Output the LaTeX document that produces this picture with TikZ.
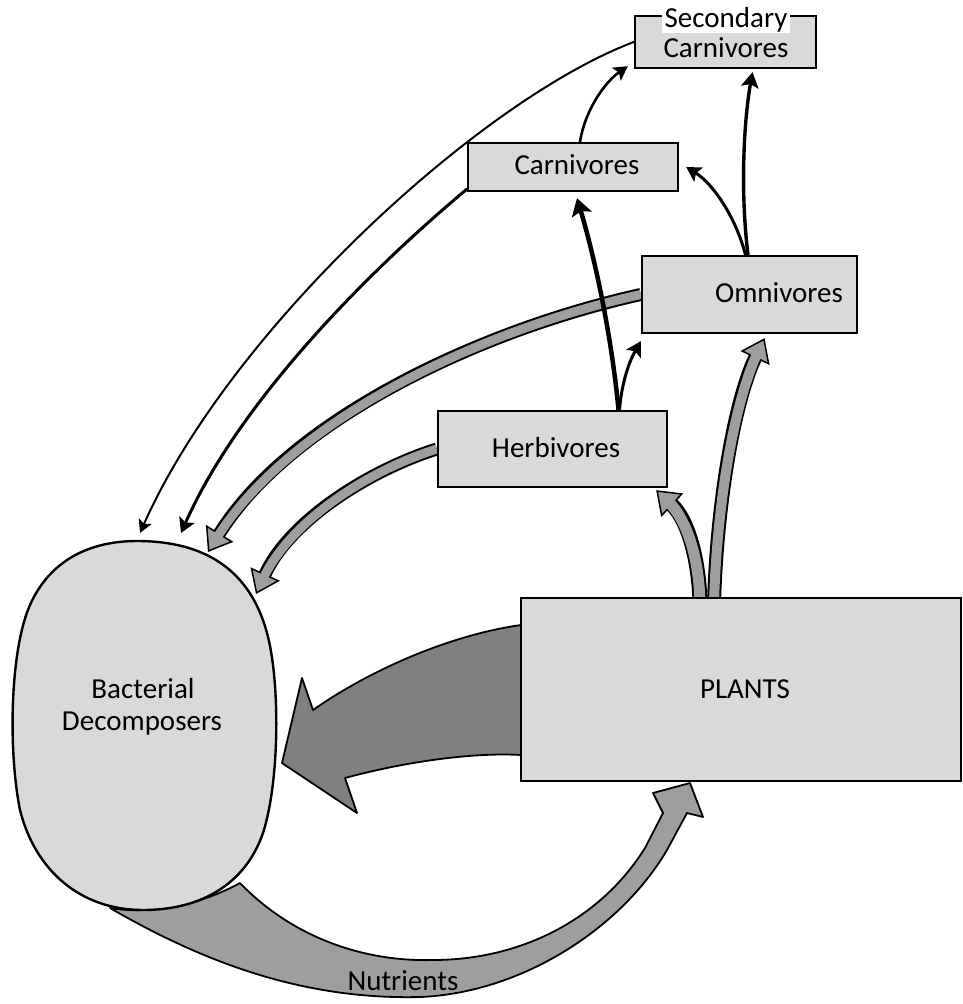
\documentclass[tikz,border=0pt]{standalone}
\usepackage{fontspec}
\setmainfont{Carlito}
\usetikzlibrary{arrows.meta}
\pgfdeclarelayer{back}
\pgfdeclarelayer{mid}
\pgfdeclarelayer{conn}
\pgfsetlayers{back,mid,conn,main}
\definecolor{boxgray}{gray}{0.85}
\definecolor{bandgray}{gray}{0.62}
\definecolor{biggray}{gray}{0.5}
\begin{document}
\begin{tikzpicture}[x=1pt,y=-1pt,
 box/.style={draw=black, line width=2.4pt, fill=boxgray, rectangle, inner sep=0pt},
 lbl/.style={font=\fontsize{29pt}{32pt}\selectfont, inner sep=0pt, anchor=base},
 thinarrow/.style={draw=black, line width=#1, line cap=round, -{Stealth[length=10pt 1.5, width=9pt 2.5, inset=3pt]}},
 bandout/.style={draw=black, line width=#1, -{Triangle[length=22pt, width=32pt, fill=bandgray, line width=1.5pt]}},
 bandin/.style={draw=bandgray, line width=#1, shorten >=15pt},
 shapeout/.style={draw=black, line width=1.8pt, line join=round}
]
\useasboundingbox (0,0) rectangle (963,1004);
\begin{pgfonlayer}{back}
\fill[white] (0,0) rectangle (963,1004);
\end{pgfonlayer}

% boxes
\node[box, minimum width=181pt, minimum height=52pt] (sec) at (725.5,42) {};
\node[box, minimum width=210pt, minimum height=48pt] (carn) at (573,167) {};
\node[box, minimum width=215pt, minimum height=77pt] (omni) at (749.5,294.5) {};
\node[box, minimum width=229pt, minimum height=76pt] (herb) at (552.5,449) {};
\node[box, minimum width=440pt, minimum height=183pt] (plants) at (741,689.5) {};

% labels
\node[lbl, fill=white, inner xsep=3pt, inner ysep=1pt] (secA) at (726,27) {Secondary};
\node[lbl] (secB) at (726,57) {Carnivores};
\node[lbl] (carnL) at (577,174) {Carnivores};
\node[lbl] (omniL) at (779,302) {Omnivores};
\node[lbl] (herbL) at (556,457) {Herbivores};
\node[lbl] (plantsL) at (745,698) {PLANTS};
\node[lbl] (bactA) at (143,698) {Bacterial};
\node[lbl] (bactB) at (142,730) {Decomposers};

% coordinates
\coordinate (bact) at (146,725);
\coordinate (bSec) at (140,533);
\coordinate (bCarn) at (181,533);
\coordinate (bOmni) at (208,552);
\coordinate (bHerb) at (256,594);
\coordinate (forkL) at (700,603);
\coordinate (forkR) at (714,603);
\coordinate (hTip) at ([xshift=-12pt,yshift=-2pt]herb.south east);
\coordinate (oTip) at ([xshift=15pt,yshift=-4pt]omni.south);
\coordinate (sTipA) at ([xshift=-6pt,yshift=3pt]sec.south west);
\coordinate (sTipB) at ([xshift=27pt,yshift=-3pt]sec.south);
\coordinate (cTip) at ([xshift=7pt]carn.east);
\coordinate (cTipB) at ([xshift=4pt,yshift=-6pt]carn.south);
\coordinate (oTipB) at ([yshift=-7pt]omni.south west);

% big shapes behind
\begin{pgfonlayer}{back}
\path[shapeout, fill=bandgray] (110,908) .. controls (200,960) and (300,1000) .. (420,997)
  .. controls (520,993) and (620,930) .. (667,850) -- (687,813) -- (703,817) -- (690,783)
  -- (653,793) -- (663,813) -- (645,848) .. controls (600,920) and (520,960) .. (433,960)
  .. controls (360,962) and (290,935) .. (240,883) .. controls (200,905) and (150,915) .. (110,908) -- cycle;
\path[shapeout, fill=biggray] (521,625) .. controls (450,635) and (370,670) .. (313,710)
  -- (302,678) -- (282,763) -- (357,813) -- (345,778) .. controls (400,763) and (470,752) .. (521,755) -- cycle;
\end{pgfonlayer}

\begin{pgfonlayer}{mid}
\path[draw=black, line width=2.4pt, fill=boxgray] (137,541) .. controls (205,541) and (250,570) .. (267,633)
  .. controls (280,680) and (280,780) .. (263,833) .. controls (245,885) and (200,910) .. (143,910)
  .. controls (80,910) and (35,870) .. (20,810) .. controls (8,750) and (10,650) .. (30,605)
  .. controls (50,560) and (90,541) .. (137,541) -- cycle;
\end{pgfonlayer}

\node[lbl] (nutL) at (403,990) {Nutrients};

\begin{pgfonlayer}{conn}
% bands to decomposers
\draw[bandout=13pt] (omni.west) .. controls (480,330) and (290,420) .. (bOmni);
\draw[bandin=9pt] (omni.west) .. controls (480,330) and (290,420) .. (bOmni);
\draw[bandout=13pt] (herb.west) .. controls (370,470) and (290,520) .. (bHerb);
\draw[bandin=9pt] (herb.west) .. controls (370,470) and (290,520) .. (bHerb);
% fork from plants
\draw[bandout=15pt] (forkL) .. controls (699,560) and (688,520) .. (hTip);
\draw[bandout=14pt] (forkR) .. controls (717,500) and (735,400) .. (oTip);
\draw[bandin=11pt] (forkL) .. controls (699,560) and (688,520) .. (hTip);
\draw[bandin=10pt] (forkR) .. controls (717,500) and (735,400) .. (oTip);
% thin arrows
\draw[thinarrow=2pt] (sec.west) .. controls (480,100) and (230,330) .. (bSec);
\draw[thinarrow=3pt] ([yshift=3pt]carn.south west) .. controls (370,270) and (240,400) .. (bCarn);
\draw[thinarrow=2.6pt] ([xshift=7pt]carn.north) .. controls (585,110) and (605,82) .. (sTipA);
\draw[thinarrow=3.4pt] ([xshift=-1.5pt]omni.north) .. controls (740,190) and (744,120) .. (sTipB);
\draw[thinarrow=3pt] ([xshift=-4pt]omni.north) .. controls (735,215) and (712,183) .. (cTip);
\draw[thinarrow=4.5pt] ([xshift=66pt]herb.north) .. controls (612,340) and (596,262) .. (cTipB);
\draw[thinarrow=3pt] ([xshift=67pt]herb.north) .. controls (622,380) and (630,360) .. (oTipB);
\end{pgfonlayer}
\end{tikzpicture}
\end{document}
